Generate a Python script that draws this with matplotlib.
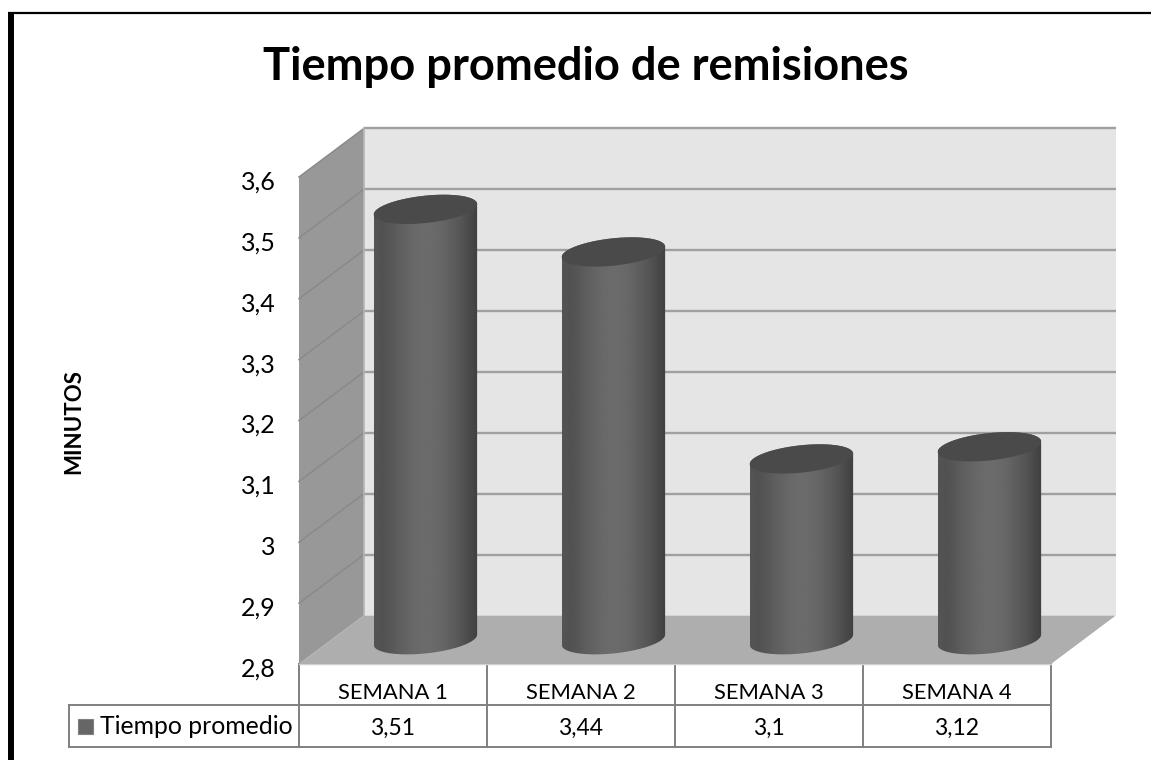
import numpy as np
import matplotlib
matplotlib.use('Agg')
import matplotlib.pyplot as plt
from matplotlib.patches import Polygon, Rectangle
from matplotlib.transforms import offset_copy

plt.rcParams['font.family'] = ['Lato', 'DejaVu Sans']

semanas = ['SEMANA 1', 'SEMANA 2', 'SEMANA 3', 'SEMANA 4']
tiempos = [3.51, 3.44, 3.1, 3.12]
tiempos_txt = ['3,51', '3,44', '3,1', '3,12']
ticks = [2.8, 2.9, 3.0, 3.1, 3.2, 3.3, 3.4, 3.5, 3.6]
tick_txt = ['2,8', '2,9', '3', '3,1', '3,2', '3,3', '3,4', '3,5', '3,6']
serie = 'Tiempo promedio'
titulo = 'Tiempo promedio de remisiones'

W, H = 1151, 760
fig = plt.figure(figsize=(W / 100, H / 100), dpi=100)

# page layer in pixels: frame, title, table
page = fig.add_axes([0, 0, 1, 1])
page.set_xlim(0, W)
page.set_ylim(H, 0)
page.axis('off')
page.plot([11, 11], [12, H], color='black', lw=4.3, solid_capstyle='butt')
page.plot([8, W], [13, 13], color='black', lw=1.6, solid_capstyle='butt')
page.text(586, 80, titulo, ha='center', va='baseline', fontsize=32.6, fontweight='bold', color='black')
page.text(73.5, 421, 'MINUTOS', rotation=90, ha='center', va='center', fontsize=16, fontweight='bold', color='black')

# data layer: front plane of the 3D box
x0, x1, y_base, y_top = 299, 1051, 664, 177
ax = fig.add_axes([x0 / W, 1 - y_base / H, (x1 - x0) / W, (y_base - y_top) / H])
ax.patch.set_visible(False)
for s in ax.spines.values():
    s.set_visible(False)
ax.set_xlim(0, 4)
ax.set_ylim(2.8, 3.6)

dx = 0.345   # depth in categories
dy = 0.0797  # depth in minutes
ax.add_patch(Polygon([(dx, 2.8 + dy), (4 + dx, 2.8 + dy), (4 + dx, 3.6 + dy), (dx, 3.6 + dy)],
                     fc='#e5e5e5', ec='none', clip_on=False, zorder=1))
ax.add_patch(Polygon([(0, 2.8), (dx, 2.8 + dy), (dx, 3.6 + dy), (0, 3.6)],
                     fc='#989898', ec='none', clip_on=False, zorder=1))
ax.add_patch(Polygon([(0, 2.8), (4, 2.8), (4 + dx, 2.8 + dy), (dx, 2.8 + dy)],
                     fc='#aeaeae', ec='none', clip_on=False, zorder=2))
for t in ticks[1:]:
    ax.plot([dx, 4 + dx], [t + dy, t + dy], color='#a0a0a0', lw=1.7, clip_on=False, zorder=1.5,
            solid_capstyle='butt')
    ax.plot([0, dx], [t, t + dy], color='#8a8a8a', lw=1.1, clip_on=False, zorder=1.5)
ax.plot([dx, dx], [2.8 + dy, 3.6 + dy], color='#b4b4b4', lw=1.2, clip_on=False, zorder=1.6)

# cylinders
rx, ry, skew = 0.275, 0.0225, 0.0085
ang = np.linspace(0, 2 * np.pi, 300)
shade = np.array([0.33, 0.32, 0.34, 0.37, 0.39, 0.41, 0.42, 0.42, 0.41, 0.39, 0.36, 0.33, 0.29, 0.25])
grad = np.interp(np.linspace(0, 1, 256), np.linspace(0, 1, len(shade)), shade)[None, :]
for i, v in enumerate(tiempos):
    cx = i + 0.5 + dx / 2
    cy0 = 2.8 + dy / 2
    cy1 = v + dy / 2 - 0.003
    ex = cx + rx * np.cos(ang)
    ey = ry * np.sin(ang) + skew * np.cos(ang)
    # body outline: lower half of the base ellipse, then up and over the top
    low = np.sin(ang) <= 0
    order = np.argsort(ex[low])
    top = np.argsort(ex[~low])[::-1]
    outline = np.r_[np.c_[ex[low][order], cy0 + ey[low][order]],
                    np.c_[ex[~low][top], cy1 + ey[~low][top]]]
    body = Polygon(outline, fc='none', ec='none', clip_on=False, zorder=3)
    ax.add_patch(body)
    im = ax.imshow(grad, cmap='gray', vmin=0, vmax=1, aspect='auto', zorder=3,
                   extent=(cx - rx, cx + rx, cy0 - 0.04, cy1 + 0.04), clip_on=True)
    im.set_clip_path(body)
    ax.add_patch(Polygon(np.c_[ex, cy1 + ey], fc='#4a4a4a', ec='none', clip_on=False, zorder=4))
ax.set_xlim(0, 4)
ax.set_ylim(2.8, 3.6)

ax.set_xticks([])
ax.set_yticks(ticks)
ax.set_yticklabels(tick_txt, fontsize=18, color='black')
ax.tick_params(axis='y', length=0, pad=17)
for lab in ax.get_yticklabels():
    lab.set_transform(offset_copy(lab.get_transform(), fig=fig, y=-3, units='dots'))

# data table under the plot
row_y = [664, 705, 747]
col_x = [299, 487, 675, 863, 1051]
gris = '#808080'
page.plot([69, 1051], [row_y[1], row_y[1]], color=gris, lw=1.4)
page.plot([69, 1051], [row_y[2], row_y[2]], color=gris, lw=1.4)
page.plot([69, 69], [row_y[1], row_y[2]], color=gris, lw=1.4)
for cx in col_x:
    page.plot([cx, cx], [row_y[0], row_y[2]], color=gris, lw=1.4)
page.plot([299, 1051], [664, 664], color='#d0d0d0', lw=1.0)
page.add_patch(Rectangle((78, 719), 15, 15, fc='#666666', ec='#808080', lw=0.8))
page.text(100, 727, serie, ha='left', va='center', fontsize=17.8, color='black')
for i in range(4):
    mid = (col_x[i] + col_x[i + 1]) / 2
    page.text(mid, 693, semanas[i], ha='center', va='center', fontsize=15.8, color='black')
    page.text(mid, 728, tiempos_txt[i], ha='center', va='center', fontsize=16.5, color='black')

fig.savefig('out.png', dpi=100)
